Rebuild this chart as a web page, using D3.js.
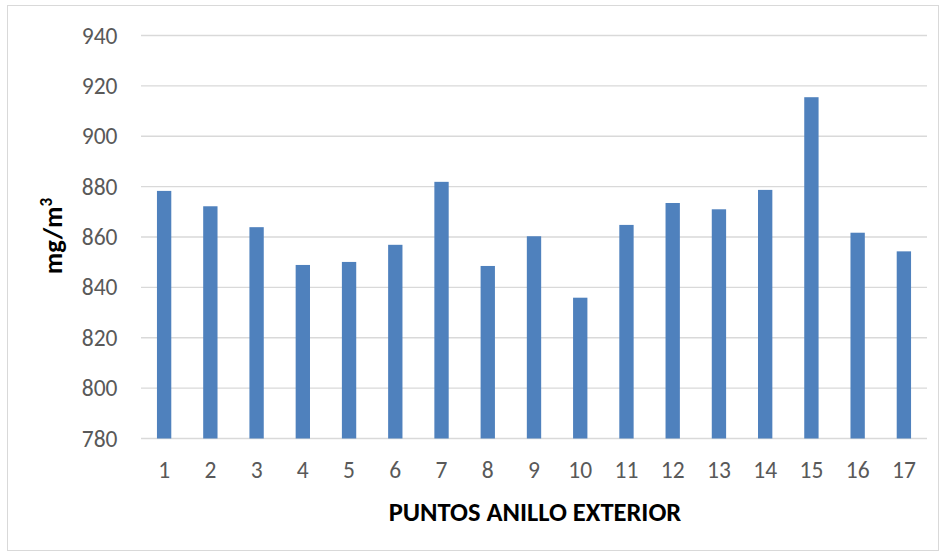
<!DOCTYPE html>
<html>
<head>
<meta charset="utf-8">
<script src="https://cdn.jsdelivr.net/npm/d3@7"></script>
<style>
  html, body { margin: 0; padding: 0; background: #fff; }
  svg { display: block; }
</style>
</head>
<body>
<svg id="chart" width="944" height="553"></svg>
<script>
// Concentration measured at each point of the outer ring
const puntos = ["1","2","3","4","5","6","7","8","9","10","11","12","13","14","15","16","17"];
const valores = [878.3, 872.2, 863.9, 848.9, 850.1, 856.9, 881.9, 848.5, 860.3, 835.9, 864.8, 873.5, 871.0, 878.7, 915.5, 861.7, 854.3];
const yTicks = [780, 800, 820, 840, 860, 880, 900, 920, 940];

const svg = d3.select("#chart");
const W = 944, H = 553;
const margin = { left: 141, right: 17, top: 35.5, bottom: 114.5 };

// chart frame
svg.append("rect")
  .attr("x", 7.5).attr("y", 5.5)
  .attr("width", W - 13).attr("height", H - 8)
  .attr("fill", "#fff").attr("stroke", "#d9d9d9").attr("stroke-width", 1);

const x = d3.scaleBand()
  .domain(puntos)
  .range([margin.left, W - margin.right])
  .paddingInner(0.69).paddingOuter(0.345);

const y = d3.scaleLinear()
  .domain([780, 940])
  .range([H - margin.bottom, margin.top]);

// horizontal gridlines
svg.append("g")
  .selectAll("line")
  .data(yTicks)
  .join("line")
  .attr("x1", margin.left).attr("x2", W - margin.right)
  .attr("y1", d => y(d)).attr("y2", d => y(d))
  .attr("stroke", "#d9d9d9").attr("stroke-width", 1.3);

// bars
svg.append("g")
  .selectAll("rect")
  .data(puntos)
  .join("rect")
  .attr("x", d => x(d))
  .attr("width", x.bandwidth())
  .attr("y", (d, i) => y(valores[i]))
  .attr("height", (d, i) => y(780) - y(valores[i]))
  .attr("fill", "#4f81bd");

const font = "Carlito, Calibri, 'Liberation Sans', Arial, sans-serif";

// y axis
const yAxis = svg.append("g")
  .attr("transform", `translate(${margin.left},0)`)
  .call(d3.axisLeft(y).tickValues(yTicks).tickSize(0).tickPadding(23.5));
yAxis.select(".domain").remove();
yAxis.selectAll("text")
  .attr("fill", "#595959")
  .style("font-family", font)
  .style("font-size", "23.5px");

// x axis
const xAxis = svg.append("g")
  .attr("transform", `translate(0,${y(780)})`)
  .call(d3.axisBottom(x).tickSize(0).tickPadding(23));
xAxis.select(".domain").remove();
xAxis.selectAll("text")
  .attr("fill", "#595959")
  .style("font-family", font)
  .style("font-size", "23.5px");

// axis titles
svg.append("text")
  .attr("x", (margin.left + W - margin.right) / 2 + 1)
  .attr("y", 521)
  .attr("text-anchor", "middle")
  .style("font-family", font)
  .style("font-size", "26.5px")
  .style("font-weight", "bold")
  .attr("fill", "#000")
  .text("PUNTOS ANILLO EXTERIOR");

const yt = svg.append("text")
  .attr("transform", `translate(62,${(y(780) + y(940)) / 2 - 1}) rotate(-90)`)
  .attr("text-anchor", "middle")
  .style("font-family", font)
  .style("font-size", "26.5px")
  .style("font-weight", "bold")
  .attr("fill", "#000");
yt.append("tspan").text("mg/m");
yt.append("tspan").attr("dy", -10).style("font-size", "17px").text("3");
</script>
</body>
</html>
